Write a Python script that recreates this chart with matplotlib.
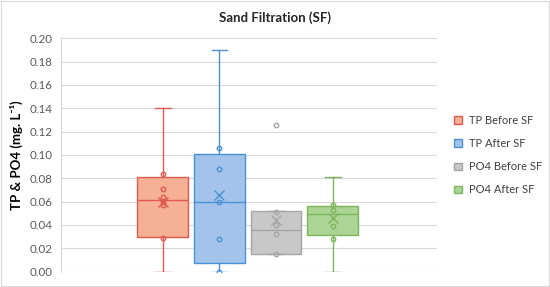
import matplotlib
matplotlib.use("Agg")
import matplotlib.pyplot as plt
from matplotlib.patches import Patch, Rectangle

plt.rcParams['font.family'] = ['Lato', 'DejaVu Sans']

# data (mg/L)
cats = ["TP Before SF", "TP After SF", "PO4 Before SF", "PO4 After SF"]
whislo = [0.000, 0.000, 0.015, 0.000]
q1 = [0.030, 0.007, 0.015, 0.031]
med = [0.061, 0.060, 0.036, 0.049]
q3 = [0.081, 0.101, 0.052, 0.056]
whishi = [0.140, 0.190, 0.052, 0.081]
means = [0.060, 0.066, 0.044, 0.046]
inner = [
    [0.084, 0.071, 0.064, 0.060, 0.057, 0.029],
    [0.106, 0.088, 0.060, 0.028, 0.000],
    [0.051, 0.040, 0.032, 0.015],
    [0.057, 0.053, 0.039, 0.028],
]
outliers = [[], [], [0.126], []]

fills = ["#f6b195", "#a3c3ea", "#c8c8c8", "#acd494"]
edges = ["#e05a4f", "#4a90d4", "#a5a5a5", "#7db55a"]

fig = plt.figure(figsize=(5.5, 2.87), dpi=100)
ax = fig.add_axes([0.111, 0.054, 0.684, 0.8126])

pos = [1, 2, 3, 4]
for i in range(len(cats)):
    st = [dict(whislo=whislo[i], q1=q1[i], med=med[i], q3=q3[i],
               whishi=whishi[i], mean=means[i], fliers=[])]
    ax.bxp(st, positions=[pos[i]], widths=0.9, showmeans=True, patch_artist=True,
           showfliers=False,
           boxprops=dict(facecolor=fills[i], edgecolor=edges[i], linewidth=1.0),
           medianprops=dict(color=edges[i], linewidth=1.0),
           whiskerprops=dict(color=edges[i], linewidth=1.0),
           capprops=dict(color=edges[i], linewidth=1.0),
           capwidths=0.28,
           meanprops=dict(marker='x', markeredgecolor=edges[i], markersize=7,
                          markeredgewidth=1.0))
    ax.plot([pos[i]] * len(inner[i]), inner[i], 'o', mfc='none', mec=edges[i],
            ms=3.2, mew=1.0, zorder=5)
    if outliers[i]:
        ax.plot([pos[i]] * len(outliers[i]), outliers[i], 'o', mfc='none',
                mec=edges[i], ms=3.2, mew=1.0, zorder=5)

ax.set_xlim(2.5 - 3.3, 2.5 + 3.35)
ax.set_ylim(0, 0.20)
ax.set_yticks([i / 100 for i in range(0, 21, 2)])
ax.set_yticklabels([f"{i / 100:.2f}" for i in range(0, 21, 2)])
ax.set_xticks([])
ax.grid(axis='y', color='#d9d9d9', linewidth=0.8)
ax.set_axisbelow(True)
for s in ['top', 'right', 'bottom']:
    ax.spines[s].set_visible(False)
ax.spines['left'].set_color('#d9d9d9')
ax.tick_params(axis='y', length=0, labelsize=8.3, labelcolor='#595959', pad=6)
ax.set_ylabel("TP & PO4 (mg. L\u207b\u00b9)", fontsize=9.5, fontweight='bold', labelpad=5)

fig.text(0.5, 0.937, "Sand Filtration (SF)", ha='center', va='center',
         fontsize=9.5, fontweight='bold', color='#262626')

handles = [Patch(facecolor=fills[i], edgecolor=edges[i], label=cats[i]) for i in range(4)]
fig.legend(handles=handles, loc='upper left', bbox_to_anchor=(0.808, 0.635),
           frameon=False, fontsize=8, handlelength=0.65, handleheight=0.65,
           handletextpad=0.7, labelspacing=1.1, labelcolor='#404040')

fig.patches.append(Rectangle((0.002, 0.003), 0.996, 0.994, transform=fig.transFigure,
                             fill=False, edgecolor='#d9d9d9', linewidth=0.8))

fig.savefig("out.png", dpi=100)
